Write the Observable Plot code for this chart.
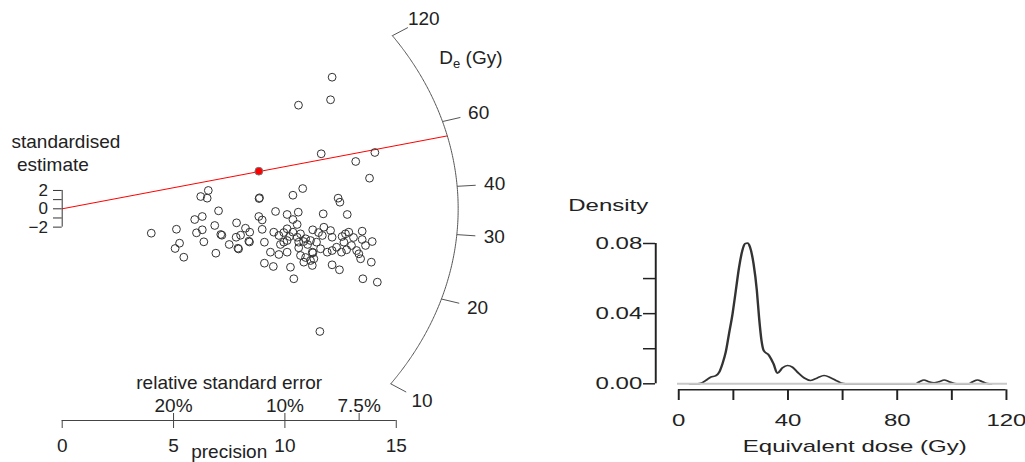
<!DOCTYPE html>
<html><head><meta charset="utf-8">
<script src="https://cdn.jsdelivr.net/npm/d3@7"></script>
<script src="https://cdn.jsdelivr.net/npm/@observablehq/plot@0.6"></script>
<style>
body{margin:0;background:#fff;}
#wrap{position:relative;width:1025px;height:462px;overflow:hidden;background:#fff;}
#wrap svg{position:absolute;top:0;overflow:visible;}
</style></head><body><div id="wrap"></div>
<script>
// ---------- Radial plot data ----------
const precision = [
12.12, 12.05, 10.61, 11.63, 14.04, 13.18, 13.80,
6.56, 6.22, 6.51, 8.86, 8.84, 10.36, 10.80, 12.39, 12.47,
4.00, 5.13, 5.27, 5.07, 5.46, 5.95, 6.29, 6.03, 6.29, 6.36,
7.02, 6.85, 6.90, 7.12, 7.17, 7.50, 7.83, 7.81, 8.01, 7.89,
7.92, 8.23, 8.42, 8.38, 8.41, 8.83, 8.98, 8.98, 9.08, 9.08,
9.58, 10.10, 10.60, 10.36, 10.55, 11.72, 12.80, 9.50, 9.73, 10.10,
9.95, 10.10, 10.36, 10.55, 10.70, 10.62, 10.93, 11.15, 11.25, 11.75,
12.05, 11.68, 12.12, 12.57, 12.72, 12.87, 13.47, 13.47, 13.92, 13.62,
12.65, 9.35, 9.73, 10.10, 10.62, 10.70, 10.85, 11.23, 11.26, 11.30,
11.15, 11.60, 11.90, 12.12, 12.32, 12.54, 12.77, 13.22, 13.32, 13.40,
13.88, 9.48, 10.25, 11.23, 12.12, 12.45, 10.40, 13.50, 14.15, 11.57,
9.95, 10.21, 10.84, 11.02, 11.42, 11.51, 10.93, 9.80, 13.08, 12.99
];
const stdEstimate = [
14.35, 11.89, 11.30, 6.00, 6.14, 5.16, 3.34,
2.00, 1.34, 1.16, 1.20, 1.12, 1.48, 2.21, 1.16, 0.72,
-2.66, -2.23, -3.75, -4.33, -5.28, -1.17, -0.84, -2.62, -2.29, -3.60,
-0.22, -1.82, -4.84, -2.80, -2.88, -3.89, -1.53, -3.10, -2.88, -4.30,
-4.38, -2.12, -2.55, -3.53, -3.62, -0.84, -1.22, -2.24, -3.64, -5.93,
-0.29, -0.62, -0.37, -1.17, -1.71, -0.55, -0.62, -2.55, -2.91, -2.18,
-3.64, -3.46, -2.55, -3.10, -2.73, -3.64, -3.27, -3.46, -2.29, -2.01,
-2.37, -2.91, -3.10, -3.02, -2.73, -2.55, -2.44, -3.35, -3.57, -4.00,
-3.64, -4.73, -4.98, -4.73, -4.25, -5.09, -5.82, -4.73, -4.80, -5.45,
-5.64, -4.36, -4.73, -4.55, -4.19, -4.73, -4.47, -4.55, -4.91, -5.45,
-5.82, -6.29, -6.37, -6.18, -6.11, -6.65, -7.63, -7.63, -8.00, -13.38,
-2.59, -3.02, -3.57, -3.89, -3.64, -2.59, -5.31, -3.89, -3.13, -4.00
];
const highlightPrecision = [8.83];
const highlightStd = [4.10];
const redLineDe = 54.6;          // Gy
const centralLogDe = 3.555;      // ln(De) of the horizontal (z = 0) direction
const logPerUnit = 0.968;
const deTicks = [10, 20, 30, 40, 60, 120];
const stdTicks = [-2, -1, 0, 1, 2];
const stdLabels = [-2, 0, 2];
const precisionTicks = [0, 5, 10, 15];
const rseTicks = [20, 10, 7.5];   // percent

// ---------- Density (KDE) data ----------
const doseGy = [4, 7, 8.1, 9.9, 11.7, 13.6, 14.8, 16.0, 17.2, 18.4, 19.7, 20.9, 22.1, 23.3, 24.3, 25.2, 26.1, 27.4, 28.6, 29.4, 30.3, 31.1, 33.1, 34.7, 36.1, 38.0, 39.8, 41.6, 43.5, 45.9, 48.3, 50.8, 53.2, 55.7, 58.1, 59.9, 62, 86.5, 88, 89.8, 91.5, 93.5, 95.5, 97.2, 99, 101, 102.5, 106, 107.5, 109.4, 111.2, 113, 114.5];
const density = [0, 0, 0.0003, 0.0019, 0.0038, 0.0047, 0.0066, 0.0114, 0.018, 0.0285, 0.0399, 0.0532, 0.0665, 0.0761, 0.0799, 0.0802, 0.0779, 0.0684, 0.0532, 0.038, 0.0247, 0.019, 0.0161, 0.0114, 0.006, 0.0091, 0.0104, 0.0095, 0.0066, 0.0034, 0.0019, 0.0034, 0.0047, 0.0034, 0.0015, 0.0003, 0, 0, 0.001, 0.0022, 0.0012, 0.0006, 0.0013, 0.0022, 0.0012, 0.0002, 0, 0, 0.001, 0.0022, 0.0012, 0.0002, 0];
const doseTicks = [0, 20, 40, 60, 80, 100, 120];
const doseLabels = [0, 40, 80, 120];
const densityTicks = [0, 0.02, 0.04, 0.06, 0.08];
const densityLabels = [0, 0.04, 0.08];

// ---------- layout ----------
const FONT = "'Liberation Sans', Arial, sans-serif";
const H = 462;
const W1 = 530, OX = 61.7, OY = 208.3, KX = 22.27, KY = 9.17;
const px = v => (v - OX) / KX;   // pixel -> precision units
const py = v => (OY - v) / KY;   // pixel -> standardised units
const RX = 17.78, RY = 34.2;
function arcPoint(de, f = 1) {
  const s = (Math.log(de) - centralLogDe) / logPerUnit;
  const x = 1 / Math.sqrt(1 / (RX * RX) + (s * s) / (RY * RY));
  return {x: x * f, y: s * x * f, de};
}
const lnA = Math.log(d3.min(deTicks)), lnB = Math.log(d3.max(deTicks));
const arcPath = d3.range(0, 241).map(i => arcPoint(Math.exp(lnA + (i / 240) * (lnB - lnA))));
const fmtMinus = d => (d < 0 ? "\u2212" + Math.abs(d) : String(d));
const pts = precision.map((p, i) => ({p, z: stdEstimate[i]}));
const hl = highlightPrecision.map((p, i) => ({p, z: highlightStd[i]}));
const redEnd = arcPoint(redLineDe);
const ink = "#222";
const fs1 = 19;

const left = Plot.plot({
  width: W1, height: H, margin: 0,
  style: {fontFamily: FONT, fontSize: fs1 + "px", background: "transparent", color: ink},
  x: {domain: [px(0), px(W1)], axis: null},
  y: {domain: [py(H), py(0)], axis: null},
  marks: [
    // arc
    Plot.line(arcPath, {x: "x", y: "y", stroke: "#555", strokeWidth: 1}),
    Plot.link(deTicks, {x1: d => arcPoint(d).x, y1: d => arcPoint(d).y, x2: d => arcPoint(d, 1.047).x, y2: d => arcPoint(d, 1.047).y, stroke: "#555", strokeWidth: 1}),
    Plot.text(deTicks, {x: d => arcPoint(d, 1.095).x, y: d => arcPoint(d, 1.095).y, text: d => String(d), fontSize: fs1, fill: ink}),
    Plot.text(["De (Gy)"], {x: px(502), y: py(63.3), text: d => d, textAnchor: "end", lineAnchor: "bottom", fontSize: fs1, fill: ink}),
    // red line
    Plot.link([redLineDe], {x1: 0, y1: 0, x2: redEnd.x, y2: redEnd.y, stroke: "red", strokeWidth: 1}),
    // points
    Plot.dot(pts, {x: "p", y: "z", r: 3.9, stroke: "#333", strokeWidth: 1, fill: "none"}),
    Plot.dot(hl, {x: "p", y: "z", r: 3.9, stroke: "#777", strokeWidth: 1, fill: "red"}),
    // standardised estimate axis
    Plot.ruleX([0], {y1: d3.min(stdTicks), y2: d3.max(stdTicks), stroke: "#333", strokeWidth: 1}),
    Plot.ruleY(stdTicks, {y: d => d, x1: px(53), x2: 0, stroke: "#333", strokeWidth: 1}),
    Plot.text(stdLabels, {x: px(47.5), y: d => d, text: fmtMinus, textAnchor: "end", fontSize: 17, fill: ink}),
    Plot.text(["standardised"], {x: px(11), y: py(147.5), text: d => d, textAnchor: "start", lineAnchor: "bottom", fontSize: fs1, fill: ink}),
    Plot.text(["estimate"], {x: px(16.5), y: py(170), text: d => d, textAnchor: "start", lineAnchor: "bottom", fontSize: fs1, fill: ink}),
    // precision / relative standard error axis
    Plot.ruleY([py(420)], {x1: d3.min(precisionTicks), x2: d3.max(precisionTicks), stroke: "#444", strokeWidth: 1}),
    Plot.ruleX(precisionTicks, {x: d => d, y1: py(420), y2: py(428), stroke: "#444", strokeWidth: 1}),
    Plot.ruleX(rseTicks, {x: d => 100 / d, y1: py(413), y2: py(420), stroke: "#444", strokeWidth: 1}),
    Plot.text(precisionTicks, {x: d => d, y: py(451.7), text: d => String(d), lineAnchor: "bottom", fontSize: fs1, fill: ink}),
    Plot.text(rseTicks, {x: d => 100 / d, y: py(411.7), text: d => d + "%", lineAnchor: "bottom", fontSize: fs1, fill: ink}),
    Plot.text(["relative standard error"], {x: 7.5, y: py(388.3), text: d => d, lineAnchor: "bottom", fontSize: fs1, fill: ink}),
    Plot.text(["precision"], {x: 7.5, y: py(457), text: d => d, lineAnchor: "bottom", fontSize: fs1, fill: ink})
  ]
});
left.style.left = "0px";

// subscript e in "De (Gy)"
d3.select(left).selectAll("text").filter(function () { return this.textContent === "De (Gy)"; })
  .each(function () {
    const t = d3.select(this);
    t.text(null);
    t.append("tspan").text("D");
    t.append("tspan").attr("font-size", 13).attr("dy", 4).text("e");
    t.append("tspan").attr("dy", -4).text(" (Gy)");
  });

// ---------- right: density plot (drawn narrow, stretched horizontally like the source) ----------
const W2 = 330, SX = 1.5, LEFT2 = 530;
const lx = X => (X - LEFT2) / SX;
const mL = lx(678), mR = W2 - lx(1005.7);
const unit = (W2 - mL - mR) / 120;
const gx = X => (lx(X) - mL) / unit;     // page pixel X -> Gy
const gy = Y => (383.3 - Y) / 1753.8;    // page pixel Y -> density
const fs2 = 16;
const curve = doseGy.map((d, i) => ({d, v: density[i]}));

const right = Plot.plot({
  width: W2, height: H,
  marginLeft: mL, marginRight: mR, marginTop: 243, marginBottom: H - 383.3,
  style: {fontFamily: FONT, fontSize: fs2 + "px", background: "transparent", color: ink},
  x: {domain: [0, 120], axis: null},
  y: {domain: [0, 0.08], axis: null},
  marks: [
    Plot.line(curve, {x: "d", y: "v", stroke: "#333", strokeWidth: 1.6, curve: "monotone-x"}),
    Plot.ruleY([0], {x1: gx(677), x2: gx(1007), stroke: "#c8c8c8", strokeWidth: 2}),
    // y axis
    Plot.ruleX([gx(655)], {y1: d3.min(densityTicks), y2: d3.max(densityTicks), stroke: "#222", strokeWidth: 1.3}),
    Plot.ruleY(densityTicks, {y: d => d, x1: gx(643), x2: gx(655), stroke: "#222", strokeWidth: 1.5}),
    Plot.text(densityLabels, {x: gx(641.5), y: d => d, text: d => d.toFixed(2), textAnchor: "end", fontSize: fs2, fill: ink}),
    Plot.text(["Density"], {x: gx(567.5), y: gy(210.5), text: d => d, textAnchor: "start", lineAnchor: "bottom", fontSize: fs2, fill: ink}),
    // x axis
    Plot.ruleY([gy(389.3)], {x1: d3.min(doseTicks), x2: d3.max(doseTicks), stroke: "#222", strokeWidth: 1.5}),
    Plot.ruleX(doseTicks, {x: d => d, y1: gy(389.3), y2: gy(400), stroke: "#222", strokeWidth: 1.3}),
    Plot.text(doseLabels, {x: d => d, y: gy(425.5), text: d => String(d), lineAnchor: "bottom", fontSize: fs2, fill: ink}),
    Plot.text(["Equivalent dose (Gy)"], {x: gx(854), y: gy(451.5), text: d => d, lineAnchor: "bottom", fontSize: fs2, fill: ink})
  ]
});
right.style.left = LEFT2 + "px";
right.style.transformOrigin = "0 0";
right.style.transform = `scaleX(${SX})`;

const wrap = document.getElementById("wrap");
wrap.appendChild(left);
wrap.appendChild(right);
</script></body></html>
